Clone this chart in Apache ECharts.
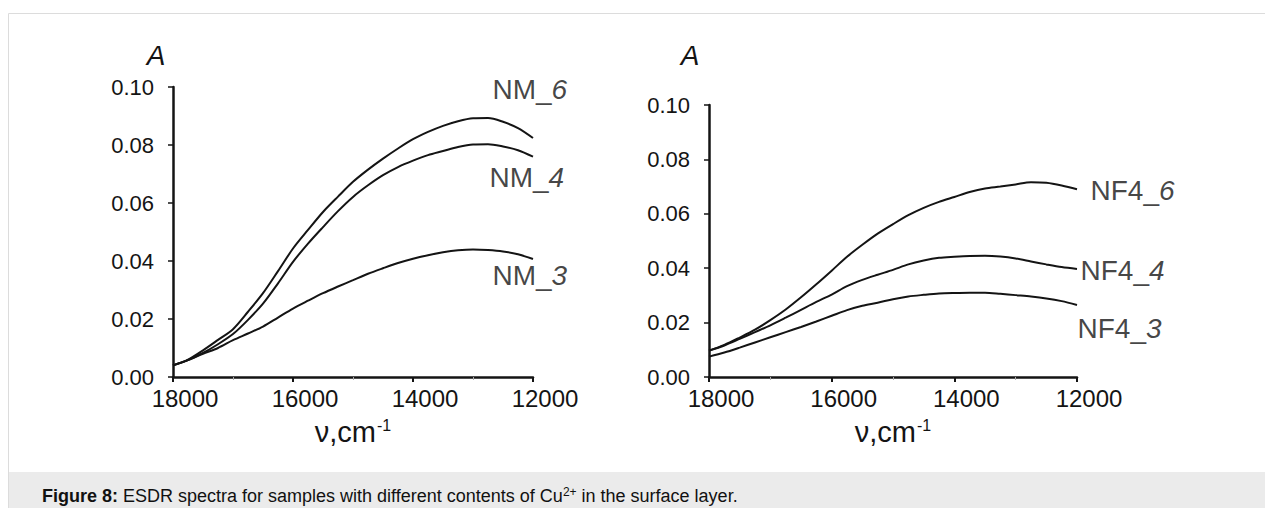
<!DOCTYPE html>
<html>
<head>
<meta charset="utf-8">
<script src="https://cdn.jsdelivr.net/npm/echarts@6/dist/echarts.min.js"></script>
<style>
  html, body { margin: 0; padding: 0; background: #fff; }
  #chart { width: 1265px; height: 508px; }
</style>
</head>
<body>
<div id="chart"></div>
<script>
// wavenumber grid (cm-1), shared by all curves
const nu = [18000, 17750, 17500, 17250, 17000, 16750, 16500, 16250, 16000, 15750, 15500, 15250,
  15000, 14750, 14500, 14250, 14000, 13750, 13500, 13250, 13000, 12750, 12500, 12250, 12000];

// left panel
const nm6 = [0.0040, 0.0060, 0.0092, 0.0128, 0.0165, 0.0225, 0.0289, 0.0365, 0.0443, 0.0507, 0.0569, 0.0622,
  0.0673, 0.0715, 0.0753, 0.0788, 0.0820, 0.0845, 0.0866, 0.0882, 0.0892, 0.0893, 0.0880, 0.0858, 0.0824];
const nm4 = [0.0040, 0.0058, 0.0083, 0.0113, 0.0148, 0.0197, 0.0253, 0.0323, 0.0397, 0.0460, 0.0517, 0.0572,
  0.0621, 0.0661, 0.0696, 0.0724, 0.0746, 0.0765, 0.0779, 0.0793, 0.0802, 0.0803, 0.0795, 0.0782, 0.0760];
const nm3 = [0.0040, 0.0058, 0.0080, 0.0100, 0.0127, 0.0150, 0.0174, 0.0205, 0.0236, 0.0263, 0.0289, 0.0312,
  0.0334, 0.0356, 0.0375, 0.0393, 0.0408, 0.0420, 0.0430, 0.0437, 0.0440, 0.0438, 0.0433, 0.0423, 0.0407];

// right panel
const nf6 = [0.0097, 0.0118, 0.0145, 0.0174, 0.0209, 0.0248, 0.0293, 0.0341, 0.0391, 0.0442, 0.0486, 0.0527,
  0.0562, 0.0595, 0.0622, 0.0644, 0.0662, 0.0680, 0.0693, 0.0700, 0.0708, 0.0716, 0.0714, 0.0704, 0.0690];
const nf4 = [0.0097, 0.0116, 0.0140, 0.0165, 0.0190, 0.0218, 0.0247, 0.0276, 0.0303, 0.0334, 0.0357, 0.0376,
  0.0394, 0.0414, 0.0428, 0.0438, 0.0442, 0.0445, 0.0446, 0.0443, 0.0436, 0.0425, 0.0414, 0.0404, 0.0397];
const nf3 = [0.0075, 0.0090, 0.0108, 0.0127, 0.0146, 0.0165, 0.0184, 0.0204, 0.0225, 0.0246, 0.0262, 0.0273,
  0.0286, 0.0296, 0.0302, 0.0307, 0.0309, 0.0310, 0.0310, 0.0306, 0.0301, 0.0296, 0.0289, 0.0279, 0.0265];

const xTicks = [12000, 14000, 16000, 18000];
const yTicks = [0.00, 0.02, 0.04, 0.06, 0.08, 0.10];

const FONT = '"Liberation Sans", Arial, sans-serif';
const INK = '#141414';

const pairs = (ys) => nu.map((v, i) => [v, ys[i]]);

const xAxisBase = (gridIndex) => ({
  type: 'value',
  gridIndex,
  min: xTicks[0],
  max: xTicks[xTicks.length - 1],
  interval: 2000,
  inverse: true,
  name: '{n|ν,cm}{s|-1}',
  nameLocation: 'middle',
  nameGap: 40,
  nameTextStyle: {
    rich: {
      n: { fontFamily: FONT, fontSize: 29, color: INK },
      s: { fontFamily: FONT, fontSize: 16, color: INK, verticalAlign: 'top', padding: [0, 0, 14, 1] }
    }
  },
  axisLine: { onZero: false, lineStyle: { color: INK, width: 2.5 } },
  axisTick: { length: 5, lineStyle: { color: INK, width: 2 } },
  minorTick: { show: true, splitNumber: 2, length: 3, lineStyle: { color: '#aaa', width: 1 } },
  axisLabel: {
    margin: 9, fontFamily: FONT, fontSize: 24, color: INK,
    padding: [0, 0, 0, 24],
    formatter: (v) => String(v)
  },
  splitLine: { show: false }
});

const yAxisBase = (gridIndex, padRight, gap) => ({
  type: 'value',
  gridIndex,
  min: yTicks[0],
  max: yTicks[yTicks.length - 1],
  interval: 0.02,
  name: 'A',
  nameLocation: 'end',
  nameGap: gap,
  nameTextStyle: { fontFamily: FONT, fontSize: 28, fontStyle: 'italic', color: INK, padding: [0, padRight, 0, 0] },
  axisLine: { show: true, onZero: false, lineStyle: { color: INK, width: 2.5 } },
  axisTick: { show: true, length: 5, lineStyle: { color: INK, width: 1.5 } },
  axisLabel: { margin: 19, fontFamily: FONT, fontSize: 22, color: INK, formatter: (v) => v.toFixed(2) },
  splitLine: { show: false }
});

const curve = (name, ys, axisIndex) => ({
  name,
  type: 'line',
  xAxisIndex: axisIndex,
  yAxisIndex: axisIndex,
  data: pairs(ys),
  showSymbol: false,
  smooth: 0.3,
  silent: true,
  lineStyle: { color: INK, width: 2 }
});

const labelRich = {
  a: { fontFamily: FONT, fontSize: 28, color: INK },
  b: { fontFamily: FONT, fontSize: 28, color: INK, fontStyle: 'italic' }
};

// one invisible point at the end of each curve carries the curve name
const tag = (stem, digit, ys, offset) => ({
  value: [nu[nu.length - 1], ys[ys.length - 1]],
  label: { show: true, position: 'right', distance: 0, offset, formatter: `{a|${stem}}{b|${digit}}`, rich: labelRich }
});

const tags = (axisIndex, items) => ({
  type: 'scatter',
  xAxisIndex: axisIndex,
  yAxisIndex: axisIndex,
  symbolSize: 1,
  silent: true,
  itemStyle: { color: 'rgba(0,0,0,0)' },
  data: items
});

const chart = echarts.init(document.getElementById('chart'), null, { renderer: 'svg' });

chart.setOption({
  animation: false,
  backgroundColor: '#fff',
  grid: [
    { left: 173, right: 732, top: 87, bottom: 131 },
    { left: 709, right: 188, top: 105, bottom: 131 }
  ],
  xAxis: [xAxisBase(0), xAxisBase(1)],
  yAxis: [yAxisBase(0, 34, 18), yAxisBase(1, 38, 36)],
  series: [
    curve('NM_6', nm6, 0),
    curve('NM_4', nm4, 0),
    curve('NM_3', nm3, 0),
    curve('NF4_6', nf6, 1),
    curve('NF4_4', nf4, 1),
    curve('NF4_3', nf3, 1),
    tags(0, [
      tag('NM_', '6', nm6, [-41, -49]),
      tag('NM_', '4', nm4, [-44, 21]),
      tag('NM_', '3', nm3, [-41, 17])
    ]),
    tags(1, [
      tag('NF4_', '6', nf6, [13, 1]),
      tag('NF4_', '4', nf4, [3, 1]),
      tag('NF4_', '3', nf3, [0, 24])
    ])
  ],
  graphic: [
    {
      type: 'rect', silent: true, z: -10,
      shape: { x: 8.5, y: 13.5, width: 1270, height: 520 },
      style: { fill: '#fff', stroke: '#dcdcdc', lineWidth: 1 }
    },
    {
      type: 'rect', silent: true, z: -9,
      shape: { x: 9, y: 472, width: 1270, height: 40 },
      style: { fill: '#ebebeb' }
    },
    {
      type: 'text', silent: true, z: 10,
      x: 42, y: 496,
      style: {
        text: '{b|Figure 8:}{r| ESDR spectra for samples with different contents of Cu}{s|2+}{r| in the surface layer.}',
        verticalAlign: 'middle',
        rich: {
          b: { fontFamily: FONT, fontSize: 18, fontWeight: 'bold', fill: '#111' },
          r: { fontFamily: FONT, fontSize: 18, fill: '#111' },
          s: { fontFamily: FONT, fontSize: 12, fill: '#111', verticalAlign: 'top', padding: [0, 0, 9, 0] }
        }
      }
    }
  ]
});
</script>
</body>
</html>
